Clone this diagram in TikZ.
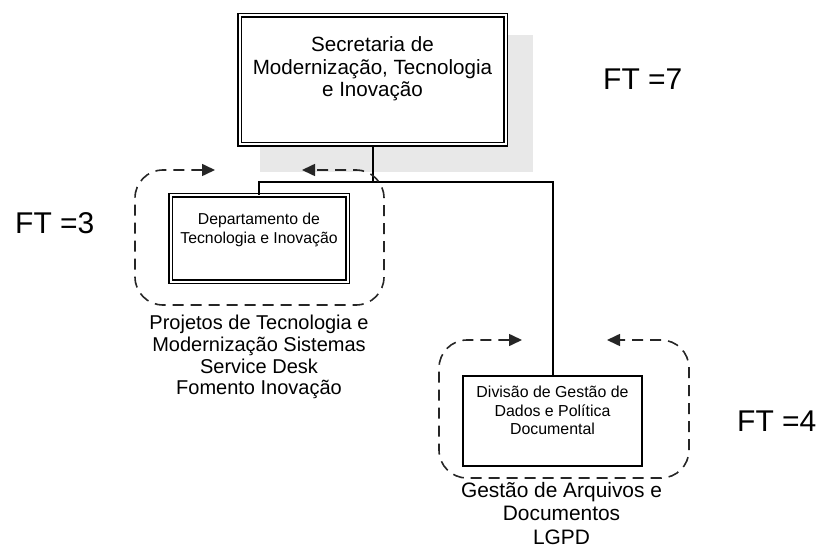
\documentclass[tikz,border=0pt]{standalone}
\usepackage{fontspec}
\setmainfont{Liberation Sans}
\usetikzlibrary{positioning, arrows.meta}

\begin{document}
\begin{tikzpicture}[x=1pt, y=-1pt,
  unitbox/.style={draw, double, line width=1.3pt, double distance=2pt, inner sep=0pt, fill=white},
  divbox/.style={draw, line width=2pt, inner sep=0pt, fill=white},
  treeline/.style={line width=2pt},
  flowloop/.style={draw=black!85, line width=1.6pt, dash pattern=on 11pt off 7pt,
    rounded corners=28pt, {Triangle[length=13pt, width=12pt]}-{Triangle[length=13pt, width=12pt]}},
  ftlabel/.style={font=\fontsize{30}{30}\selectfont, inner sep=0pt, anchor=base west}]

  \useasboundingbox (0,0) rectangle (822,548);

  % --- Shadow of the top box ---
  \fill[black!9] (260,35) rectangle (533,172);

  % --- Boxes ---
  \node[unitbox, minimum width=266pt, minimum height=129pt] (sec) at (372.5,80) {};
  \node[unitbox, minimum width=177pt, minimum height=86pt] (dept) at (259,238.5) {};
  \node[divbox, minimum width=179pt, minimum height=90pt] (div) at (552.5,421) {};

  % --- Box texts ---
  \node[align=center, inner sep=0pt, font=\fontsize{20.6}{22.5}\selectfont, below=22pt of sec.north] (sectxt)
    {Secretaria de\\Modernização, Tecnologia\\e Inovação};
  \node[align=center, inner sep=0pt, font=\fontsize{15.8}{19}\selectfont, below=18pt of dept.north] (depttxt)
    {Departamento de\\Tecnologia e Inovação};
  \node[align=center, inner sep=0pt, font=\fontsize{15.9}{18.5}\selectfont, below=11pt of div.north] (divtxt)
    {Divisão de Gestão de\\Dados e Política\\Documental};

  % --- Duties below the boxes ---
  \node[align=center, inner sep=0pt, font=\fontsize{20}{21.7}\selectfont, below=33pt of dept.south] (deptduty)
    {Projetos de Tecnologia e\\Modernização Sistemas\\Service Desk\\Fomento Inovação};
  \node[align=center, inner sep=0pt, font=\fontsize{20.9}{23.5}\selectfont, below=15pt of div.south, xshift=9pt] (divduty)
    {Gestão de Arquivos e\\Documentos\\LGPD};

  % --- Tree lines ---
  \coordinate (bus) at (372.5,182);
  \draw[treeline] (sec.south) -- (bus);
  \draw[treeline] (dept.north) |- (bus) -| (div.north);

  % --- Dashed loops ---
  \draw[flowloop] (215,170) -| (135,305) -| (384,170) -- (302,170);
  \draw[flowloop] (522,340) -| (439,478) -| (689,340) -- (607,340);

  % --- FT labels ---
  \node[ftlabel] (ftsec) at (603,90) {FT =7};
  \node[ftlabel] (ftdept) at (15,234) {FT =3};
  \node[ftlabel] (ftdiv) at (737,431) {FT =4};

\end{tikzpicture}
\end{document}
